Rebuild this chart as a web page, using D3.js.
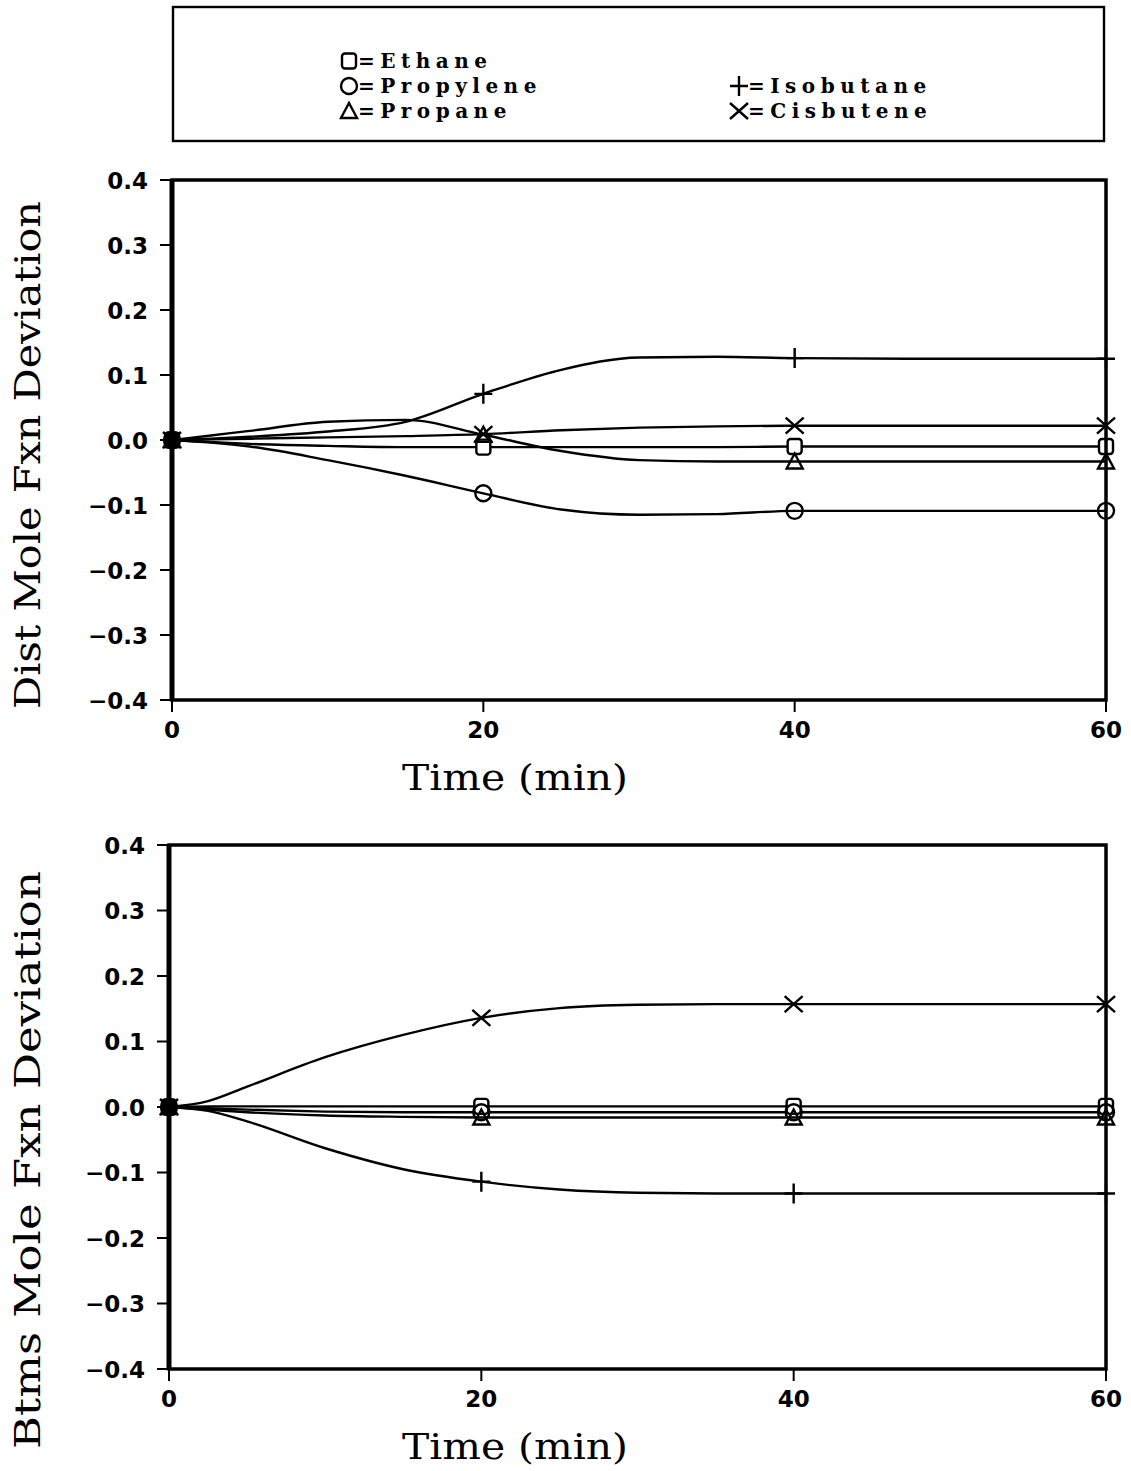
<!DOCTYPE html>
<html>
<head>
  <meta charset="utf-8">
  <script src="https://cdnjs.cloudflare.com/ajax/libs/d3/7.8.5/d3.min.js"></script>
  <style>
    body { margin: 0; background: #fff; }
    .tick-label { font-family: "DejaVu Sans", sans-serif; font-weight: bold; font-size: 23px; fill: #000; }
    .axis-title { font-family: "DejaVu Serif", serif; font-size: 35px; fill: #000; }
    .legend-text { font-family: "DejaVu Serif", serif; font-weight: bold; font-size: 20px; fill: #000; letter-spacing: 5.5px; }
    .series { fill: none; stroke: #000; stroke-width: 2.4; }
  </style>
</head>
<body>
  <div id="graph"></div>
  <script>
    // Sample times (min)
    const times = [0, 2.5, 5, 10, 15, 20, 25, 30, 35, 40, 50, 60];
    const markerTimes = [0, 20, 40, 60];
    const xTicks = [0, 20, 40, 60];
    const yTicks = [-0.4, -0.3, -0.2, -0.1, 0.0, 0.1, 0.2, 0.3, 0.4];

    const seriesNames = ["Ethane", "Propylene", "Propane", "Isobutane", "Cisbutene"];
    const seriesSymbols = ["square", "circle", "triangle", "plus", "cross"];

    // Distillate mole fraction deviation
    const ethaneDist    = [0, -0.003, -0.006, -0.009, -0.011, -0.011, -0.011, -0.011, -0.011, -0.010, -0.010, -0.010];
    const propyleneDist = [0, -0.004, -0.010, -0.031, -0.055, -0.082, -0.107, -0.115, -0.114, -0.109, -0.109, -0.109];
    const propaneDist   = [0, 0.007, 0.014, 0.028, 0.031, 0.008, -0.017, -0.031, -0.033, -0.033, -0.033, -0.033];
    const isobutaneDist = [0, 0.002, 0.005, 0.013, 0.028, 0.071, 0.108, 0.127, 0.128, 0.126, 0.125, 0.125];
    const cisbuteneDist = [0, 0.001, 0.002, 0.004, 0.006, 0.009, 0.015, 0.019, 0.021, 0.022, 0.022, 0.022];

    // Bottoms mole fraction deviation
    const ethaneBtms    = [0, 0.001, 0.001, 0.001, 0.001, 0.001, 0.001, 0.001, 0.001, 0.001, 0.001, 0.001];
    const propyleneBtms = [0, -0.002, -0.004, -0.007, -0.008, -0.008, -0.008, -0.008, -0.008, -0.008, -0.008, -0.008];
    const propaneBtms   = [0, -0.004, -0.008, -0.013, -0.015, -0.016, -0.016, -0.016, -0.016, -0.016, -0.016, -0.016];
    const isobutaneBtms = [0, -0.006, -0.022, -0.063, -0.095, -0.114, -0.126, -0.131, -0.132, -0.132, -0.132, -0.132];
    const cisbuteneBtms = [0, 0.009, 0.031, 0.076, 0.110, 0.136, 0.151, 0.156, 0.157, 0.157, 0.157, 0.157];

    const svg = d3.select("#graph").append("svg")
      .attr("width", 1131)
      .attr("height", 1471);

    // Marker drawing
    function drawMarker(g, kind, cx, cy, filled) {
      const fill = filled ? "#000" : "#fff";
      if (kind === "square") {
        g.append("rect").attr("x", cx - 7).attr("y", cy - 7.5).attr("width", 14).attr("height", 15)
          .attr("rx", 3).attr("fill", fill).attr("stroke", "#000").attr("stroke-width", 2.4);
      } else if (kind === "circle") {
        g.append("circle").attr("cx", cx).attr("cy", cy).attr("r", 8)
          .attr("fill", filled ? "#000" : "none").attr("stroke", "#000").attr("stroke-width", 2.4);
      } else if (kind === "triangle") {
        g.append("path").attr("d", `M${cx},${cy - 8}L${cx + 8},${cy + 7}L${cx - 8},${cy + 7}Z`)
          .attr("fill", filled ? "#000" : "none").attr("stroke", "#000").attr("stroke-width", 2.4);
      } else if (kind === "plus") {
        g.append("path").attr("d", `M${cx - 9},${cy}H${cx + 9}M${cx},${cy - 10}V${cy + 10}`)
          .attr("fill", "none").attr("stroke", "#000").attr("stroke-width", 2.4);
      } else if (kind === "cross") {
        g.append("path").attr("d", `M${cx - 9},${cy - 8}L${cx + 9},${cy + 8}M${cx - 9},${cy + 8}L${cx + 9},${cy - 8}`)
          .attr("fill", "none").attr("stroke", "#000").attr("stroke-width", 2.4);
      }
    }

    function drawPanel(box, seriesList, yTitle, yTitleCenter, yTitleLen) {
      const x = d3.scaleLinear().domain([0, 60]).range([box.left, box.right]);
      const y = d3.scaleLinear().domain([-0.4, 0.4]).range([box.bottom, box.top]);
      const g = svg.append("g");

      // Y ticks + labels
      yTicks.forEach(v => {
        g.append("line").attr("x1", box.left - 12).attr("x2", box.left)
          .attr("y1", y(v)).attr("y2", y(v)).attr("stroke", "#000").attr("stroke-width", 2);
        g.append("text").attr("class", "tick-label")
          .attr("x", box.left - 24).attr("y", y(v) + 8.5)
          .attr("text-anchor", "end")
          .text(d3.format(".1f")(v));
      });

      // X ticks + labels
      xTicks.forEach(v => {
        g.append("line").attr("x1", x(v)).attr("x2", x(v))
          .attr("y1", box.bottom).attr("y2", box.bottom + 12).attr("stroke", "#000").attr("stroke-width", 2);
        g.append("text").attr("class", "tick-label")
          .attr("x", x(v)).attr("y", box.bottom + 38)
          .attr("text-anchor", "middle")
          .text(v);
      });

      // Curves
      const line = d3.line()
        .x((d, i) => x(times[i]))
        .y(d => y(d))
        .curve(d3.curveMonotoneX);

      seriesList.forEach(vals => {
        g.append("path").datum(vals).attr("class", "series").attr("d", line);
      });

      // Markers
      seriesList.forEach((vals, k) => {
        markerTimes.forEach(t => {
          const i = times.indexOf(t);
          drawMarker(g, seriesSymbols[k], x(t), y(vals[i]), t === 0);
        });
      });

      // Frame
      g.append("rect").attr("x", box.left).attr("y", box.top)
        .attr("width", box.right - box.left).attr("height", box.bottom - box.top)
        .attr("fill", "none").attr("stroke", "#000").attr("stroke-width", 3.5);
      g.append("line").attr("x1", box.left).attr("x2", box.left)
        .attr("y1", box.top).attr("y2", box.bottom).attr("stroke", "#000").attr("stroke-width", 5);

      // Titles
      g.append("text").attr("class", "axis-title")
        .attr("x", 515).attr("y", box.bottom + 90)
        .attr("text-anchor", "middle")
        .attr("textLength", 226).attr("lengthAdjust", "spacingAndGlyphs")
        .text("Time (min)");

      g.append("text").attr("class", "axis-title")
        .attr("transform", `translate(40,${yTitleCenter}) rotate(-90)`)
        .attr("text-anchor", "middle")
        .attr("textLength", yTitleLen).attr("lengthAdjust", "spacingAndGlyphs")
        .text(yTitle);
    }

    // Legend
    const legend = svg.append("g");
    legend.append("rect").attr("x", 173).attr("y", 7).attr("width", 931).attr("height", 134)
      .attr("fill", "none").attr("stroke", "#000").attr("stroke-width", 2.4);

    const legendPos = [[349, 61], [349, 86], [349, 111], [739, 86], [739, 111]];
    seriesNames.forEach((name, k) => {
      const [lx, ly] = legendPos[k];
      drawMarker(legend, seriesSymbols[k], lx, ly, false);
      legend.append("text").attr("class", "legend-text")
        .attr("x", lx + 9).attr("y", ly + 7)
        .text("=" + name);
    });

    drawPanel({left: 172, right: 1106, top: 180, bottom: 700},
      [ethaneDist, propyleneDist, propaneDist, isobutaneDist, cisbuteneDist],
      "Dist Mole Fxn Deviation", 455, 508);

    drawPanel({left: 169, right: 1106, top: 845, bottom: 1369},
      [ethaneBtms, propyleneBtms, propaneBtms, isobutaneBtms, cisbuteneBtms],
      "Btms Mole Fxn Deviation", 1160, 578);
  </script>
</body>
</html>
